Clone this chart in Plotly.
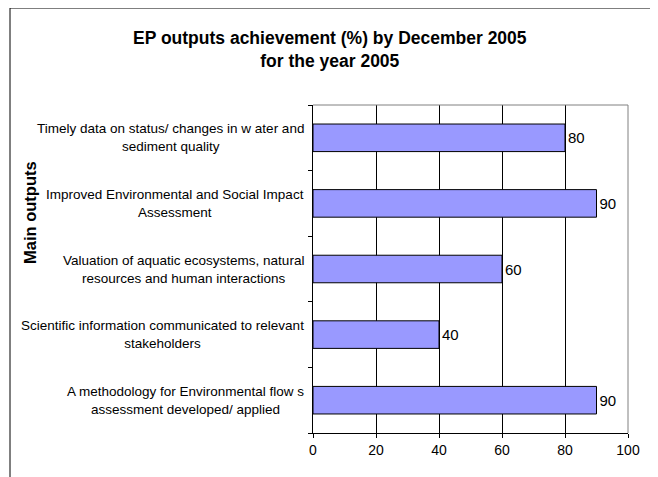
import plotly.graph_objects as go

# categories listed top to bottom, as in the reference
outputs = [
    "Timely data on status/ changes in w ater and<br>sediment quality",
    "Improved Environmental and Social Impact<br>Assessment",
    "Valuation of aquatic ecosystems, natural<br>resources and human interactions",
    "Scientific information communicated to relevant<br>stakeholders",
    "A methodology for Environmental flow s<br>assessment developed/ applied",
]
achievement = [80, 90, 60, 40, 90]
x_ticks = [0, 20, 40, 60, 80, 100]

# page has an 8px body margin, so the figure is drawn 8px smaller
OFF = 8
W, H = 658 - OFF, 477 - OFF
L, R, T, B = 313 - OFF, 30, 105 - OFF, 44
pw, ph = W - L - R, H - T - B

def px_x(p):
    # reference pixel -> paper x
    return (p - OFF - L) / pw

def px_y(p):
    # reference pixel -> paper y
    return (H - B - (p - OFF)) / ph

FONT = "Arial, Liberation Sans, sans-serif"

fig = go.Figure()
fig.add_trace(go.Bar(
    x=achievement,
    y=list(range(len(outputs))),
    orientation="h",
    marker=dict(color="#9999FF", line=dict(color="black", width=1)),
    text=[str(v) for v in achievement],
    textposition="outside",
    textfont=dict(family=FONT, size=15, color="black"),
    cliponaxis=False,
    width=0.42,
    showlegend=False,
))

# centred category labels, right-anchored next to the axis
annotations = []
for i, lab in enumerate(outputs):
    annotations.append(dict(
        x=px_x(306), xref="paper", y=i, yref="y",
        text=lab, showarrow=False, xanchor="right", align="center",
        font=dict(family=FONT, size=13.5, color="black"),
    ))

annotations.append(dict(
    x=px_x(30), xref="paper", y=px_y(213), yref="paper",
    text="<b>Main outputs</b>", textangle=-90, showarrow=False,
    xanchor="center", yanchor="middle",
    font=dict(family=FONT, size=16.5, color="black"),
))
annotations.append(dict(
    x=px_x(330), xref="paper", y=px_y(50), yref="paper",
    text="<b>EP outputs achievement (%) by December 2005<br>for the year 2005</b>",
    showarrow=False, align="center", xanchor="center", yanchor="middle",
    font=dict(family=FONT, size=17.5, color="black"),
))

shapes = [
    # outer frame
    dict(type="rect", xref="paper", yref="paper",
         x0=px_x(10), x1=px_x(652), y0=px_y(490), y1=px_y(8),
         line=dict(color="black", width=1)),
    # plot area border (top / right in grey)
    dict(type="line", xref="paper", yref="paper",
         x0=0, x1=1, y0=1, y1=1, line=dict(color="#808080", width=1)),
    dict(type="line", xref="paper", yref="paper",
         x0=1, x1=1, y0=0, y1=1, line=dict(color="#808080", width=1)),
]

fig.update_layout(
    width=W, height=H,
    margin=dict(l=L, r=R, t=T, b=B),
    paper_bgcolor="white",
    plot_bgcolor="white",
    font=dict(family=FONT, size=12, color="black"),
    annotations=annotations,
    shapes=shapes,
    xaxis=dict(
        range=[0, 100], tickvals=x_ticks,
        showgrid=True, gridcolor="black", gridwidth=1,
        zeroline=False, showline=True, linecolor="black", linewidth=1,
        ticks="outside", ticklen=4, tickcolor="black",
        tickfont=dict(family=FONT, size=14, color="black"),
    ),
    yaxis=dict(
        range=[len(outputs) - 0.5, -0.5],
        tickvals=[i + 0.5 for i in range(-1, len(outputs))],
        showticklabels=False, showgrid=False, zeroline=False,
        showline=True, linecolor="black", linewidth=1,
        ticks="outside", ticklen=4, tickcolor="black",
    ),
)

fig.write_html("out.html")
